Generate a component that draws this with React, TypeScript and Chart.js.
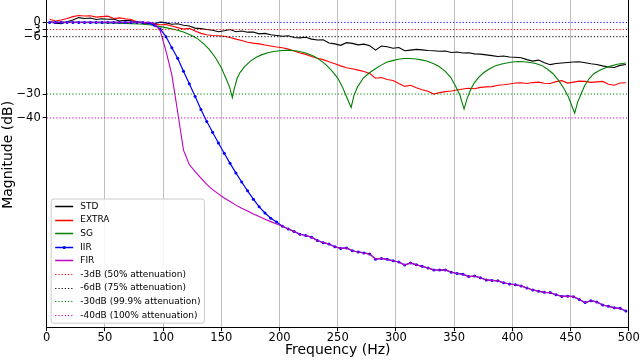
import React, { useEffect, useRef } from 'react';
import { Chart, registerables } from 'chart.js';

Chart.register(...registerables);

// Frequency grid (Hz) shared by STD, EXTRA, IIR and FIR
const FREQ = [
  2.5, 7.5, 12.5, 17.5, 22.5, 27.5, 32.5, 37.5, 42.5, 47.5,
  52.5, 57.5, 62.5, 67.5, 72.5, 77.5, 82.5, 87.5, 92.5, 97.5,
  102.5, 107.5, 112.5, 117.5, 122.5, 127.5, 132.5, 137.5, 142.5, 147.5,
  152.5, 157.5, 162.5, 167.5, 172.5, 177.5, 182.5, 187.5, 192.5, 197.5,
  202.5, 207.5, 212.5, 217.5, 222.5, 227.5, 232.5, 237.5, 242.5, 247.5,
  252.5, 257.5, 262.5, 267.5, 272.5, 277.5, 282.5, 287.5, 292.5, 297.5,
  302.5, 307.5, 312.5, 317.5, 322.5, 327.5, 332.5, 337.5, 342.5, 347.5,
  352.5, 357.5, 362.5, 367.5, 372.5, 377.5, 382.5, 387.5, 392.5, 397.5,
  402.5, 407.5, 412.5, 417.5, 422.5, 427.5, 432.5, 437.5, 442.5, 447.5,
  452.5, 457.5, 462.5, 467.5, 472.5, 477.5, 482.5, 487.5, 492.5, 497.5,
];

const STD = [
  0.2, -0.3, -0.5, 0.3, 1.0, 2.0, 1.6, 1.8, 1.2, 1.5,
  1.3, 1.4, 0.6, 0.9, 0.7, 0.4, -0.3, -0.5, -0.6, 0.1,
  -0.2, -0.8, -0.6, -1.2, -1.5, -2.4, -2.6, -3.0, -3.3, -3.9,
  -3.5, -3.0, -3.9, -3.6, -4.1, -4.0, -4.8, -4.6, -5.2, -5.5,
  -5.8, -5.6, -6.3, -6.5, -6.2, -7.0, -7.4, -7.3, -8.6, -9.0,
  -9.6, -8.5, -8.8, -9.4, -9.1, -9.8, -11.6, -9.9, -10.2, -10.8,
  -10.5, -11.9, -11.6, -11.3, -11.5, -11.8, -11.9, -12.1, -12.0, -12.6,
  -12.4, -12.8, -12.7, -13.2, -13.3, -13.6, -13.9, -14.3, -14.1, -14.5,
  -14.6, -14.8, -15.6, -16.2, -15.8, -16.9, -17.7, -17.2, -17.0, -16.8,
  -16.6, -16.5, -16.9, -17.3, -17.6, -18.2, -18.7, -18.9, -18.0, -17.6,
];

const EXTRA = [
  1.3, 0.6, 1.0, 1.6, 2.4, 2.9, 2.7, 2.8, 2.2, 2.4,
  2.6, 1.6, 1.9, 1.5, 1.2, 0.2, -0.2, -0.5, -0.8, -1.0,
  -0.9, -1.5, -2.2, -2.8, -2.5, -3.6, -4.6, -5.2, -5.5, -5.6,
  -5.8, -6.3, -7.0, -7.6, -8.3, -8.7, -9.0, -9.5, -9.9, -10.3,
  -10.6, -11.2, -12.0, -12.8, -13.4, -14.3, -15.0, -15.6, -16.5, -17.3,
  -18.2, -19.0, -19.4, -20.0, -20.6, -21.4, -23.4, -23.1, -23.9, -24.3,
  -25.6, -26.8, -26.3, -27.4, -28.2, -28.8, -30.0, -29.4, -29.0, -28.7,
  -28.3, -27.9, -27.6, -27.8, -27.2, -27.0, -26.9, -26.3, -26.1, -25.8,
  -25.4, -25.3, -25.6, -25.2, -25.0, -25.5, -25.6, -24.8, -24.4, -25.4,
  -25.0, -24.6, -24.7, -25.1, -24.9, -24.7, -25.9, -26.3, -25.4, -25.3,
];

const SG_FREQ = [
  2.5, 20, 40, 60, 80, 90, 100, 110, 117.5, 125,
  130, 135, 140, 145, 150, 154, 157, 159.5, 161, 163.5,
  166, 170, 175, 180, 185, 190, 195, 200, 205, 210,
  215, 220, 225, 230, 235, 240, 245, 250, 254, 257,
  261.5, 264, 267, 272, 277, 282, 287, 292, 297, 302,
  307, 312, 317, 322, 327, 332, 337, 342, 347, 351,
  355, 358.5, 361, 364, 367, 371, 375, 380, 385, 390,
  395, 400, 405, 410, 415, 420, 425, 430, 435, 440,
  444, 448, 453.5, 456, 459, 462, 466, 470, 475, 480,
  485, 490, 497.5,
];

const SG = [
  0, 0, -0.1, -0.3, -0.7, -1.1, -2.0, -3.0, -4.0, -5.6,
  -7.0, -9.0, -11.5, -14.8, -19.0, -23.5, -27.0, -31.5, -28.0, -23.5,
  -21.0, -18.5, -16.2, -14.6, -13.5, -12.7, -12.2, -11.9, -11.7, -11.7,
  -12.0, -12.5, -13.2, -14.3, -15.8, -17.8, -20.3, -23.3, -27.0, -30.5,
  -35.6, -30.5, -27.0, -23.3, -21.2, -19.5, -18.0, -16.7, -16.0, -15.4,
  -15.1, -15.1, -15.3, -15.7, -16.3, -17.2, -18.5, -20.3, -23.0, -26.5,
  -30.5, -36.3, -32.0, -28.3, -25.5, -23.0, -21.2, -19.5, -18.3, -17.5,
  -17.0, -16.6, -16.4, -16.5, -16.8, -17.2, -18.0, -19.5, -21.5, -24.5,
  -27.5, -31.0, -38.0, -33.5, -30.0, -26.5, -23.5, -21.5, -20.0, -19.0,
  -18.2, -17.5, -17.0,
];

const IIR = [
  0, 0, 0, 0, 0, 0, 0, 0, 0, 0,
  0, 0, 0, 0, 0, 0, 0, -0.3, -1.2, -2.8,
  -6.0, -10.6, -15.0, -20.5, -25.7, -31.0, -36.5, -41.5, -46.0, -50.5,
  -54.8, -59.0, -63.0, -66.8, -70.5, -74.0, -77.2, -79.8, -82.0, -83.6,
  -85.3, -86.5, -87.5, -88.7, -89.2, -89.9, -91.3, -92.2, -92.8, -93.9,
  -94.6, -94.4, -95.6, -96.1, -96.5, -97.0, -99.1, -98.8, -99.2, -99.8,
  -100.3, -101.6, -100.7, -101.5, -102.1, -102.8, -103.6, -103.7, -103.6, -104.6,
  -105.1, -105.4, -106.4, -106.2, -106.9, -107.8, -108.0, -108.2, -109.0, -109.5,
  -109.8, -110.3, -111.2, -112.0, -112.5, -113.0, -113.1, -114.0, -114.7, -114.6,
  -114.8, -116.0, -117.3, -116.5, -117.0, -118.3, -118.8, -119.5, -119.7, -120.8,
];

const FIR = [
  0, 0, 0, 0, 0, 0, 0, 0, 0, 0,
  0, 0, 0, 0, 0, 0, 0, 0, -0.4, -3.5,
  -12.0, -22.0, -37.5, -53.5, -59.5, -62.5, -65.2, -67.8, -70.0, -71.8,
  -73.5, -75.0, -76.5, -77.8, -79.0, -80.2, -81.3, -82.4, -83.4, -84.4,
  -85.3, -86.5, -87.5, -88.7, -89.2, -89.9, -91.3, -92.2, -92.8, -93.9,
  -94.6, -94.4, -95.6, -96.1, -96.5, -97.0, -99.1, -98.8, -99.2, -99.8,
  -100.3, -101.6, -100.7, -101.5, -102.1, -102.8, -103.6, -103.7, -103.6, -104.6,
  -105.1, -105.4, -106.4, -106.2, -106.9, -107.8, -108.0, -108.2, -109.0, -109.5,
  -109.8, -110.3, -111.2, -112.0, -112.5, -113.0, -113.1, -114.0, -114.7, -114.6,
  -114.8, -116.0, -117.3, -116.5, -117.0, -118.3, -118.8, -119.5, -119.7, -120.8,
];

const X_TICKS = [0, 50, 100, 150, 200, 250, 300, 350, 400, 450, 500];
const Y_TICKS = [0, -3, -6, -30, -40];
const X_RANGE = [0, 500];
const Y_RANGE = [-127.8, 16.9];

const REF_LEVELS = [0, -3, -6, -30, -40];
const REF_LABELS = ['', '-3dB (50% attenuation)', '-6dB (75% attenuation)', '-30dB (99.9% attenuation)', '-40dB (100% attenuation)'];
const REF_COLORS = ['#0000ff', '#ff0000', '#000000', '#008000', '#bf00bf'];

const SERIES_LABELS = ['STD', 'EXTRA', 'SG', 'IIR', 'FIR'];
const SERIES_COLORS = ['#000000', '#ff0000', '#008000', '#0000ff', '#bf00bf'];

const FONT = '"DejaVu Sans", sans-serif';
// The axes' top edge lies above the visible picture (cropped figure)
const HIDDEN_TOP = 18;

const pts = (xs: number[], ys: number[]) => ys.map((y, i) => ({ x: xs[i], y }));

const frameLegendPlugin = {
  id: 'frameLegend',
  afterDraw(chart: any) {
    const { ctx, chartArea: ca } = chart;
    ctx.save();
    // axes frame
    ctx.strokeStyle = '#000';
    ctx.lineWidth = 1;
    const l = Math.floor(ca.left) + 0.5;
    const t = Math.floor(ca.top) + 0.5;
    const r = Math.floor(ca.right) + 0.5;
    const b = Math.floor(ca.bottom) + 0.5;
    ctx.strokeRect(l, t, r - l, b - t);

    // legend inside the axes, lower left
    const items = chart.data.datasets.filter((d: any) => d.inLegend);
    const fs = 9;
    const rowH = 13.6;
    ctx.font = `${fs}px ${FONT}`;
    const boxL = ca.left + 4.5;
    const boxB = ca.bottom - 4.5;
    const boxT = boxB - (items.length * rowH + 1.8);
    const textX = boxL + 29;
    let maxW = 0;
    items.forEach((d: any) => { maxW = Math.max(maxW, ctx.measureText(d.label).width); });
    const boxR = textX + maxW + 4;
    const rad = 2.5;
    ctx.beginPath();
    ctx.moveTo(boxL + rad, boxT);
    ctx.lineTo(boxR - rad, boxT);
    ctx.quadraticCurveTo(boxR, boxT, boxR, boxT + rad);
    ctx.lineTo(boxR, boxB - rad);
    ctx.quadraticCurveTo(boxR, boxB, boxR - rad, boxB);
    ctx.lineTo(boxL + rad, boxB);
    ctx.quadraticCurveTo(boxL, boxB, boxL, boxB - rad);
    ctx.lineTo(boxL, boxT + rad);
    ctx.quadraticCurveTo(boxL, boxT, boxL + rad, boxT);
    ctx.closePath();
    ctx.fillStyle = 'rgba(255,255,255,0.85)';
    ctx.fill();
    ctx.strokeStyle = '#cccccc';
    ctx.lineWidth = 1;
    ctx.stroke();

    items.forEach((d: any, i: number) => {
      const cy = boxT + 7 + i * rowH;
      const x0 = boxL + 4;
      const x1 = boxL + 22;
      ctx.save();
      ctx.strokeStyle = d.borderColor;
      ctx.lineWidth = d.borderDash && d.borderDash.length ? 1 : 1.5;
      ctx.setLineDash(d.borderDash || []);
      ctx.beginPath();
      ctx.moveTo(x0, Math.round(cy) + 0.5);
      ctx.lineTo(x1, Math.round(cy) + 0.5);
      ctx.stroke();
      ctx.restore();
      if (d.legendMarker) {
        ctx.fillStyle = d.borderColor;
        ctx.beginPath();
        ctx.arc((x0 + x1) / 2, Math.round(cy) + 0.5, 1.6, 0, Math.PI * 2);
        ctx.fill();
      }
      ctx.fillStyle = '#000';
      ctx.textBaseline = 'middle';
      ctx.textAlign = 'left';
      ctx.fillText(d.label, textX, cy + 0.5);
    });
    ctx.restore();
  },
};

export default function App() {
  const canvasRef = useRef<HTMLCanvasElement | null>(null);

  useEffect(() => {
    if (!canvasRef.current) return;
    Chart.defaults.font.family = FONT;
    Chart.defaults.color = '#000';

    const seriesData = [
      pts(FREQ, STD),
      pts(FREQ, EXTRA),
      pts(SG_FREQ, SG),
      pts(FREQ, IIR),
      pts(FREQ, FIR),
    ];

    const datasets: any[] = seriesData.map((data, i) => ({
      label: SERIES_LABELS[i],
      data,
      borderColor: SERIES_COLORS[i],
      backgroundColor: SERIES_COLORS[i],
      borderWidth: i === 3 ? 1.2 : 1.1,
      pointRadius: i === 3 ? 1.5 : 0,
      pointBorderWidth: 0,
      pointBackgroundColor: SERIES_COLORS[i],
      fill: false,
      inLegend: true,
      legendMarker: i === 3,
      order: -i,
    }));

    REF_LEVELS.forEach((lvl, j) => {
      datasets.push({
        label: REF_LABELS[j],
        data: [{ x: X_RANGE[0], y: lvl }, { x: X_RANGE[1], y: lvl }],
        borderColor: REF_COLORS[j],
        borderWidth: 1,
        borderDash: [1.2, 2],
        pointRadius: 0,
        fill: false,
        inLegend: REF_LABELS[j] !== '',
        order: -10 - j,
      });
    });

    const chart = new Chart(canvasRef.current, {
      type: 'line',
      data: { datasets },
      options: {
        responsive: false,
        animation: false,
        layout: { autoPadding: false, padding: { left: 0, right: 11.2, top: 0, bottom: 0 } },
        plugins: { legend: { display: false }, tooltip: { enabled: false } },
        elements: { line: { tension: 0 } },
        scales: {
          x: {
            type: 'linear',
            min: X_RANGE[0],
            max: X_RANGE[1],
            afterBuildTicks: (s: any) => { s.ticks = X_TICKS.map((v) => ({ value: v })); },
            afterFit: (s: any) => { s.height = 32.3; s.paddingLeft = 0; s.paddingRight = 0; },
            grid: { color: '#b0b0b0', lineWidth: 0.8, tickColor: '#000', tickLength: 3.5, tickWidth: 1 },
            border: { display: false },
            ticks: { font: { size: 11.5 }, color: '#000', padding: 0, maxRotation: 0, autoSkip: false },
            title: { display: true, text: 'Frequency (Hz)', font: { size: 14 }, color: '#000', padding: { top: 0, bottom: 1.6 } },
          },
          y: {
            type: 'linear',
            min: Y_RANGE[0],
            max: Y_RANGE[1],
            afterBuildTicks: (s: any) => { s.ticks = Y_TICKS.map((v) => ({ value: v })); },
            afterFit: (s: any) => { s.width = 46.7; s.paddingTop = 0; s.paddingBottom = 0; },
            grid: { drawOnChartArea: false, tickColor: '#000', tickLength: 4, tickWidth: 1 },
            border: { display: false },
            ticks: {
              font: { size: 11.5 },
              color: '#000',
              padding: 2,
              autoSkip: false,
              callback: (v: any) => (Number(v) < 0 ? '\u2212' + Math.abs(Number(v)) : String(v)),
            },
            title: { display: true, text: 'Magnitude (dB)', font: { size: 14 }, color: '#000', padding: { top: 0, bottom: 0 } },
          },
        },
      } as any,
      plugins: [frameLegendPlugin],
    });
    return () => chart.destroy();
  }, []);

  return (
    <div style={{ position: 'fixed', left: 0, top: 0, width: 640, height: 360, overflow: 'hidden', background: '#fff' }}>
      <canvas
        ref={canvasRef}
        width={640}
        height={360 + HIDDEN_TOP}
        style={{ display: 'block', position: 'absolute', left: 0, top: -HIDDEN_TOP }}
      />
    </div>
  );
}
